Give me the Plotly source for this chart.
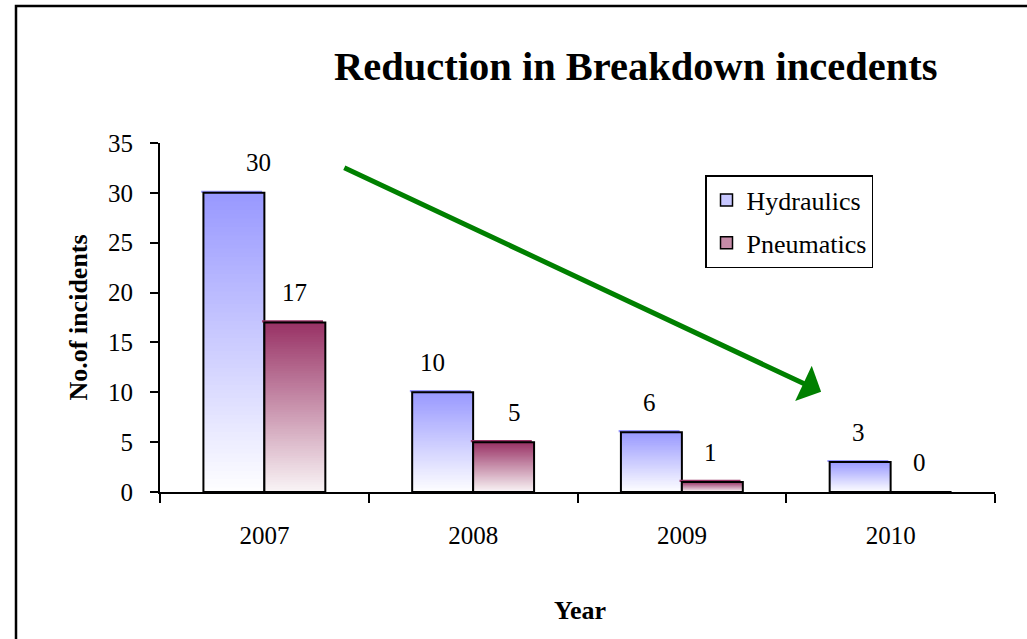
import plotly.graph_objects as go

years = ["2007", "2008", "2009", "2010"]
hydraulics = [30, 10, 6, 3]
pneumatics = [17, 5, 1, 0]
series_names = ["Hydraulics", "Pneumatics"]
top_colors = [(153, 153, 255), (153, 51, 102)]
bottom_colors = [(255, 255, 255), (250, 246, 247)]
# small horizontal nudges of the value labels (pixels), as placed in the original
label_nudge = [[25, -10, -2, -2], [0, 11, -2, -2]]

FONT = "Liberation Serif, Times New Roman, serif"
N_STEPS = 70
BARGAP = 0.416
BAR_W = (1 - BARGAP) / 2

fig = go.Figure()

def mix(c1, c2, t):
    return "rgb(%d,%d,%d)" % tuple(round(a + (b - a) * t) for a, b in zip(c1, c2))

for si, (name, vals, top, bot) in enumerate(zip(series_names, [hydraulics, pneumatics], top_colors, bottom_colors)):
    for k in range(N_STEPS):
        f = 1 - k / N_STEPS
        fig.add_trace(go.Bar(
            x=years, y=[v * f for v in vals], offsetgroup=name,
            marker=dict(color=mix(bot, top, f), line=dict(width=0)),
            showlegend=False, hoverinfo="skip",
        ))
    # slightly offset coloured top edge (as in the original rendering)
    fig.add_trace(go.Bar(
        x=years, y=[0.22 if v > 0 else None for v in vals], base=vals,
        width=BAR_W, offset=(-BAR_W if si == 0 else 0) - 0.011,
        marker=dict(color=mix(bot, top, 1), line=dict(width=0)),
        showlegend=False, hoverinfo="skip",
    ))
    fig.add_trace(go.Bar(
        x=years, y=vals, offsetgroup=name, name=name,
        marker=dict(color="rgba(0,0,0,0)", line=dict(color="black", width=2)),
        showlegend=False,
    ))
    fig.add_trace(go.Bar(
        x=[None], y=[None], name=name, legendgroup=name,
        marker=dict(color=mix(bot, top, 0.55), line=dict(color="black", width=1.5)),
        showlegend=True,
    ))

annotations = []
for i, (name, vals) in enumerate(zip(series_names, [hydraulics, pneumatics])):
    shift = -30.5 if i == 0 else 30.5
    for j, v in enumerate(vals):
        annotations.append(dict(
            x=j, y=v, xref="x", yref="y", text=str(v), showarrow=False,
            xshift=shift + label_nudge[i][j], yshift=30, yanchor="middle",
            font=dict(family=FONT, size=25, color="black"),
        ))

annotations.append(dict(
    x=0.569, y=1.218, xref="paper", yref="paper", text="<b>Reduction in Breakdown incedents</b>",
    showarrow=False, xanchor="center", yanchor="middle",
    font=dict(family=FONT, size=40.5, color="black"),
))
annotations.append(dict(
    x=0, y=0.5, xref="paper", yref="paper", text="<b>No.of incidents</b>",
    showarrow=False, textangle=-90, xshift=-82, xanchor="center", yanchor="middle",
    font=dict(family=FONT, size=26, color="black"),
))
annotations.append(dict(
    x=0.5, y=0, xref="paper", yref="paper", text="<b>Year</b>",
    showarrow=False, yshift=-118, xshift=2, xanchor="center", yanchor="middle",
    font=dict(family=FONT, size=26, color="black"),
))
annotations.append(dict(
    x=2.667, y=10.06, ax=0.3756, ay=32.59, xref="x", yref="y", axref="x", ayref="y",
    text="", showarrow=True, arrowhead=1, arrowsize=1.3, arrowwidth=5, arrowcolor="#008000",
))

fig.update_layout(
    width=1027, height=639,
    margin=dict(l=160, r=32, t=143, b=147),
    paper_bgcolor="white", plot_bgcolor="white",
    barmode="group", bargap=BARGAP, bargroupgap=0,
    font=dict(family=FONT, size=25, color="black"),
    showlegend=True,
    legend=dict(
        x=0.6527, y=0.908, xanchor="left", yanchor="top",
        bordercolor="black", borderwidth=1.5, bgcolor="white",
        font=dict(family=FONT, size=26, color="black"),
        traceorder="grouped", tracegroupgap=6,
    ),
    annotations=annotations,
    shapes=[dict(
        type="rect", xref="paper", yref="paper",
        xsizemode="pixel", ysizemode="pixel", xanchor=0, yanchor=0,
        x0=-144, x1=880, y0=-160, y1=486,
        line=dict(color="black", width=2.5), fillcolor="rgba(0,0,0,0)", layer="above",
    )],
)

fig.update_xaxes(
    type="category", categoryorder="array", categoryarray=years,
    showline=True, linecolor="black", linewidth=2,
    ticks="outside", ticklen=9, tickwidth=2, tickcolor="black",
    tickson="boundaries", showgrid=False, zeroline=False,
    ticklabelstandoff=20,
    tickfont=dict(family=FONT, size=25, color="black"),
)
fig.update_yaxes(
    range=[0, 35], dtick=5, tick0=0,
    showline=True, linecolor="black", linewidth=2,
    ticks="outside", ticklen=8, tickwidth=2, tickcolor="black",
    showgrid=False, zeroline=False,
    ticklabelstandoff=12,
    tickfont=dict(family=FONT, size=25, color="black"),
)

fig.write_html("out.html")
